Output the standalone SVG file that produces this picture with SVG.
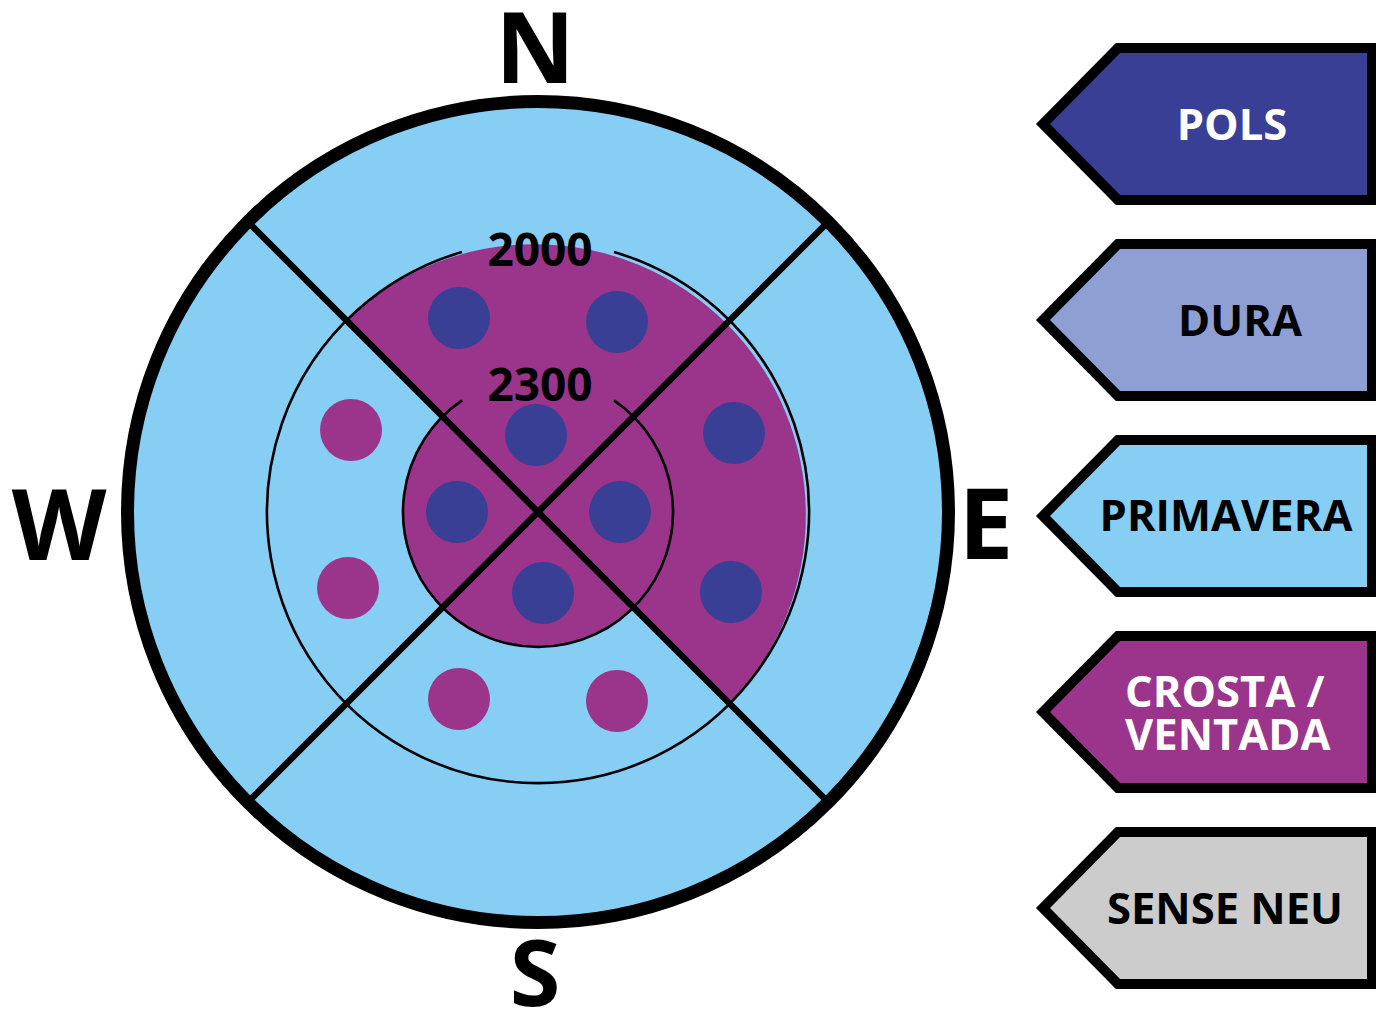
<svg xmlns="http://www.w3.org/2000/svg" width="1376" height="1016" viewBox="0 0 1376 1016">
  <style>
    .compass { font-family: "Open Sans", "Liberation Sans", sans-serif; font-weight: 700; fill: #000; }
    .alt { font-family: "Open Sans", "Liberation Sans", sans-serif; font-weight: 700; font-size: 46px; fill: #000; text-anchor: middle; }
    .leg { font-family: "Open Sans", "Liberation Sans", sans-serif; font-weight: 700; font-size: 43.5px; }
    .tag { stroke: #000; stroke-width: 10; stroke-linejoin: miter; }
    .ring { fill: none; stroke: #000; stroke-width: 2.6; }
    .diag { stroke: #000; stroke-width: 6.5; stroke-linecap: butt; }
    .dB { fill: #383F95; }
    .dP { fill: #9B358C; }
  </style>

  <rect width="1376" height="1016" fill="#ffffff"/>

  <g id="rose">
    <circle cx="538" cy="512" r="410" fill="#86CEF3"/>
    <!-- purple half ring (N and E sectors) -->
    <path d="M 346.4 320.4 A 271 271 0 0 1 729.6 703.6 Z" fill="#9B358C"/>
    <!-- purple inner disk -->
    <circle cx="538" cy="512" r="135" fill="#9B358C"/>
    <!-- altitude rings with gaps for labels -->
    <path class="ring" d="M 614 252 A 271 271 0 1 1 462 252"/>
    <path class="ring" d="M 614 400.4 A 135 135 0 1 1 462 400.4"/>
  </g>

  <g id="dots">
    <circle class="dB" cx="459" cy="318" r="31"/>
    <circle class="dB" cx="617" cy="322" r="31"/>
    <circle class="dB" cx="536" cy="435" r="31"/>
    <circle class="dB" cx="457" cy="512" r="31"/>
    <circle class="dB" cx="620" cy="512" r="31"/>
    <circle class="dB" cx="543" cy="593" r="31"/>
    <circle class="dB" cx="734" cy="433" r="31"/>
    <circle class="dB" cx="731" cy="592" r="31"/>
    <circle class="dP" cx="351" cy="430" r="31"/>
    <circle class="dP" cx="348" cy="588" r="31"/>
    <circle class="dP" cx="459" cy="699" r="31"/>
    <circle class="dP" cx="617" cy="701" r="31"/>
  </g>

  <g id="connectors">
    <line class="diag" x1="252" y1="226" x2="824" y2="798"/>
    <line class="diag" x1="824" y1="226" x2="252" y2="798"/>
  </g>

  <g id="outer-ring">
    <circle cx="538" cy="512" r="410.5" fill="none" stroke="#000" stroke-width="13"/>
  </g>

  <g id="altitudes">
    <text class="alt" x="540" y="266">2000</text>
    <text class="alt" x="540" y="401">2300</text>
  </g>

  <g id="compass-letters">
    <text class="compass" x="535" y="83" font-size="98" text-anchor="middle">N</text>
    <text class="compass" x="59" y="560" font-size="98" text-anchor="middle">W</text>
    <text class="compass" x="986" y="559" font-size="98" text-anchor="middle">E</text>
    <text class="compass" x="535" y="1006" font-size="92" text-anchor="middle">S</text>
  </g>

  <g id="legend-pols">
    <path class="tag" fill="#383F95" d="M 1118 48 L 1372 48 L 1372 200 L 1118 200 L 1043 124 Z"/>
    <text class="leg" x="1232" y="140" fill="#ffffff" text-anchor="middle">POLS</text>
  </g>
  <g id="legend-dura">
    <path class="tag" fill="#8E9FD4" d="M 1118 244 L 1372 244 L 1372 396 L 1118 396 L 1043 320 Z"/>
    <text class="leg" x="1240" y="336" fill="#000" text-anchor="middle">DURA</text>
  </g>
  <g id="legend-primavera">
    <path class="tag" fill="#86CEF3" d="M 1118 440 L 1372 440 L 1372 592 L 1118 592 L 1043 516 Z"/>
    <text class="leg" x="1226" y="531" fill="#000" text-anchor="middle">PRIMAVERA</text>
  </g>
  <g id="legend-crosta">
    <path class="tag" fill="#9B358C" d="M 1118 636 L 1372 636 L 1372 788 L 1118 788 L 1043 712 Z"/>
    <text class="leg" fill="#ffffff" font-size="43"><tspan x="1125" y="707">CROSTA /</tspan><tspan x="1125" y="750">VENTADA</tspan></text>
  </g>
  <g id="legend-sense-neu">
    <path class="tag" fill="#CCCCCC" d="M 1118 832 L 1372 832 L 1372 984 L 1118 984 L 1043 908 Z"/>
    <text class="leg" x="1225" y="924" fill="#000" text-anchor="middle">SENSE NEU</text>
  </g>
</svg>
